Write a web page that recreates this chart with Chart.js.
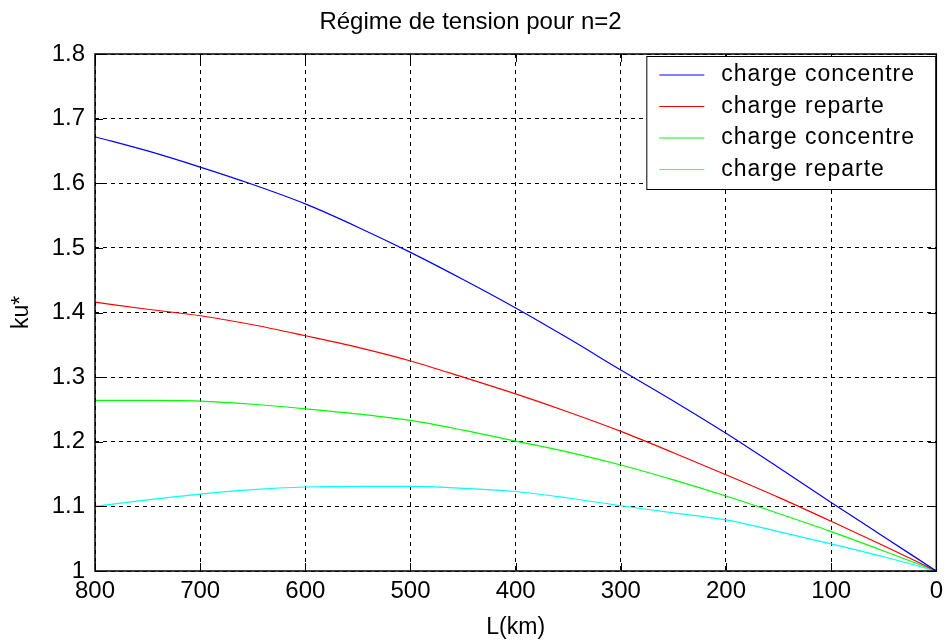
<!DOCTYPE html>
<html>
<head>
<meta charset="utf-8">
<script src="https://cdn.jsdelivr.net/npm/chart.js@4/dist/chart.umd.min.js"></script>
<style>
html,body{margin:0;padding:0;background:#fff;}
canvas{display:block;}
</style>
</head>
<body>
<canvas id="c" width="949" height="641"></canvas>
<script>
// ---- data ----
const distancesKm = [800,750,700,650,600,550,500,450,400,350,300,250,200,150,100,50,0];
const blueConcentre = [1.672,1.650,1.625,1.598,1.568,1.532,1.493,1.451,1.407,1.360,1.311,1.263,1.213,1.160,1.106,1.053,1.000];
const redReparte    = [1.416,1.405,1.395,1.381,1.364,1.346,1.325,1.300,1.274,1.246,1.216,1.183,1.149,1.114,1.077,1.039,1.000];
const greenConcentre= [1.264,1.264,1.263,1.258,1.251,1.243,1.233,1.218,1.201,1.184,1.164,1.141,1.116,1.089,1.061,1.031,1.000];
const cyanReparte   = [1.100,1.110,1.119,1.126,1.130,1.131,1.131,1.128,1.123,1.113,1.101,1.090,1.079,1.061,1.042,1.022,1.000];
const seriesLabels = ['charge concentre','charge reparte','charge concentre','charge reparte'];
const seriesColors = ['#0000ff','#ff0000','#00ff00','#00ffff'];
const titleText = 'Régime de tension pour n=2';
const xTitle = 'L(km)';
const yTitle = 'ku*';

const FONT = '"Liberation Sans", Arial, sans-serif';
const allSeries = [blueConcentre, redReparte, greenConcentre, cyanReparte];

const datasets = allSeries.map((vals, i) => ({
  label: seriesLabels[i],
  data: distancesKm.map((d, j) => ({x: d, y: vals[j]})),
  borderColor: seriesColors[i],
  backgroundColor: seriesColors[i],
  borderWidth: 1.2,
  pointRadius: 0,
  fill: false,
  cubicInterpolationMode: 'monotone'
}));

const matlabPlugin = {
  id: 'matlabBox',
  afterDatasetsDraw(chart) {
    const {ctx, chartArea: a, scales} = chart;
    ctx.save();
    ctx.strokeStyle = '#000';
    ctx.lineWidth = 1;
    ctx.setLineDash([]);
    const tl = 8;
    scales.x.ticks.forEach(t => {
      const px = Math.round(scales.x.getPixelForValue(t.value)) + 0.5;
      ctx.beginPath();
      ctx.moveTo(px, a.bottom); ctx.lineTo(px, a.bottom - tl);
      ctx.moveTo(px, a.top); ctx.lineTo(px, a.top + tl);
      ctx.stroke();
    });
    scales.y.ticks.forEach(t => {
      const py = Math.round(scales.y.getPixelForValue(t.value)) + 0.5;
      ctx.beginPath();
      ctx.moveTo(a.left, py); ctx.lineTo(a.left + tl, py);
      ctx.moveTo(a.right, py); ctx.lineTo(a.right - tl, py);
      ctx.stroke();
    });
    // legend box
    const lw = 290, lh = 134;
    const lx = a.right - lw, ly = a.top + 2;
    ctx.fillStyle = '#fff';
    ctx.fillRect(lx, ly, lw, lh);
    ctx.strokeStyle = '#000';
    ctx.lineWidth = 1;
    ctx.strokeRect(lx + 0.5, ly + 0.5, lw - 1, lh - 1);
    ctx.font = '23px ' + FONT;
    ctx.textBaseline = 'middle';
    ctx.textAlign = 'left';
    try { ctx.letterSpacing = '1px'; } catch (e) {}
    seriesLabels.forEach((lab, i) => {
      const yy = ly + 19 + i * 31.5;
      ctx.strokeStyle = seriesColors[i];
      ctx.lineWidth = 1.2;
      ctx.beginPath();
      ctx.moveTo(lx + 13, yy); ctx.lineTo(lx + 58, yy);
      ctx.stroke();
      ctx.fillStyle = '#000';
      ctx.fillText(lab, lx + 75, yy);
    });
    ctx.strokeStyle = '#000';
    ctx.lineWidth = 1.5;
    ctx.strokeRect(a.left, a.top, a.right - a.left, a.bottom - a.top);
    ctx.restore();
  }
};

new Chart(document.getElementById('c'), {
  type: 'line',
  data: {datasets},
  plugins: [matlabPlugin],
  options: {
    responsive: false,
    animation: false,
    devicePixelRatio: 1,
    layout: {padding: {left: 0, right: 8, top: 0, bottom: 0}},
    plugins: {
      legend: {display: false},
      tooltip: {enabled: false},
      title: {
        display: true,
        text: titleText,
        color: '#000',
        font: {family: FONT, size: 24, weight: 'normal'},
        padding: {top: 8, bottom: 17.2}
      }
    },
    scales: {
      x: {
        type: 'linear',
        reverse: true,
        min: 0, max: 800,
        ticks: {stepSize: 100, color: '#000', font: {family: FONT, size: 24}, padding: 6, maxRotation: 0},
        grid: {color: '#000', lineWidth: 1, drawTicks: false},
        border: {display: false, dash: [4, 4]},
        title: {display: true, text: xTitle, color: '#000', font: {family: FONT, size: 23}, padding: {top: 0, bottom: 0}},
        afterFit(scale) { scale.height = 70; }
      },
      y: {
        type: 'linear',
        min: 1, max: 1.8,
        ticks: {stepSize: 0.1, color: '#000', font: {family: FONT, size: 24}, padding: 10,
          callback: v => String(Number(v.toFixed(1)))},
        grid: {color: '#000', lineWidth: 1, drawTicks: false},
        border: {display: false, dash: [4, 4]},
        title: {display: true, text: yTitle, color: '#000', font: {family: FONT, size: 23}, padding: {top: 8, bottom: 10}},
        afterFit(scale) { scale.width = 95; }
      }
    }
  }
});
</script>
</body>
</html>
